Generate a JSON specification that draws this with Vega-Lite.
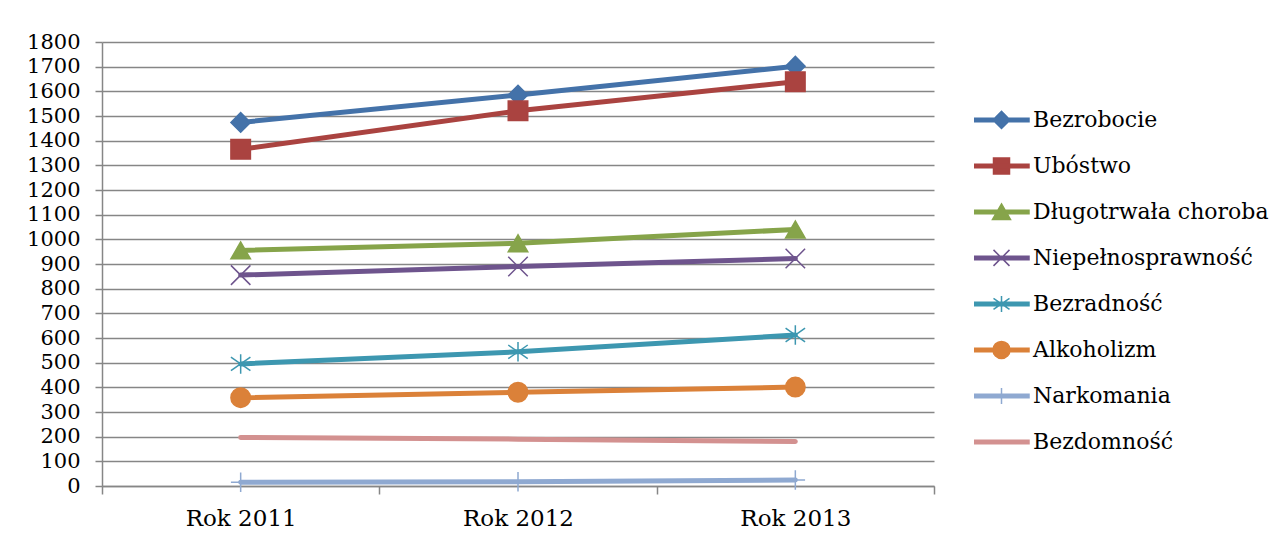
{
  "$schema": "https://vega.github.io/schema/vega-lite/v6.json",
  "width": 832,
  "height": 444,
  "autosize": {"type": "none"},
  "padding": {"left": 102, "top": 42, "right": 351, "bottom": 57},
  "background": "white",
  "config": {
    "font": "DejaVu Serif",
    "view": {"stroke": null},
    "axis": {
      "labelFont": "DejaVu Serif",
      "labelColor": "black",
      "domainColor": "#868686",
      "tickColor": "#868686",
      "gridColor": "#868686",
      "domainWidth": 1.5,
      "tickWidth": 1.5,
      "gridWidth": 1.5
    },
    "legend": {"labelFont": "DejaVu Serif", "labelColor": "black"}
  },
  "data": {
    "values": [
      {"series": "Bezrobocie", "year": "Rok 2011", "value": 1474},
      {"series": "Bezrobocie", "year": "Rok 2012", "value": 1585},
      {"series": "Bezrobocie", "year": "Rok 2013", "value": 1702},
      {"series": "Ubóstwo", "year": "Rok 2011", "value": 1365},
      {"series": "Ubóstwo", "year": "Rok 2012", "value": 1521},
      {"series": "Ubóstwo", "year": "Rok 2013", "value": 1639},
      {"series": "Długotrwała choroba", "year": "Rok 2011", "value": 955},
      {"series": "Długotrwała choroba", "year": "Rok 2012", "value": 984},
      {"series": "Długotrwała choroba", "year": "Rok 2013", "value": 1040},
      {"series": "Niepełnosprawność", "year": "Rok 2011", "value": 855},
      {"series": "Niepełnosprawność", "year": "Rok 2012", "value": 890},
      {"series": "Niepełnosprawność", "year": "Rok 2013", "value": 922},
      {"series": "Bezradność", "year": "Rok 2011", "value": 495},
      {"series": "Bezradność", "year": "Rok 2012", "value": 544},
      {"series": "Bezradność", "year": "Rok 2013", "value": 612},
      {"series": "Alkoholizm", "year": "Rok 2011", "value": 358},
      {"series": "Alkoholizm", "year": "Rok 2012", "value": 380},
      {"series": "Alkoholizm", "year": "Rok 2013", "value": 401},
      {"series": "Narkomania", "year": "Rok 2011", "value": 15},
      {"series": "Narkomania", "year": "Rok 2012", "value": 17},
      {"series": "Narkomania", "year": "Rok 2013", "value": 24},
      {"series": "Bezdomność", "year": "Rok 2011", "value": 197},
      {"series": "Bezdomność", "year": "Rok 2012", "value": 190},
      {"series": "Bezdomność", "year": "Rok 2013", "value": 180}
    ]
  },
  "encoding": {
    "x": {
      "field": "year",
      "type": "nominal",
      "sort": null,
      "scale": {"type": "band", "paddingInner": 0, "paddingOuter": 0},
      "axis": {
        "title": null,
        "labelAngle": 0,
        "labelFontSize": 23,
        "tickBand": "extent",
        "tickSize": 8,
        "labelPadding": 13,
        "grid": false
      }
    },
    "y": {
      "field": "value",
      "type": "quantitative",
      "scale": {"domain": [0, 1800], "nice": false, "zero": true},
      "axis": {
        "title": null,
        "values": [0, 100, 200, 300, 400, 500, 600, 700, 800, 900, 1000, 1100, 1200, 1300, 1400, 1500, 1600, 1700, 1800],
        "format": "d",
        "labelOverlap": false,
        "labelFontSize": 21,
        "tickSize": 7,
        "labelPadding": 15,
        "grid": true,
        "labelBaseline": "middle"
      }
    },
    "color": {
      "field": "series",
      "type": "nominal",
      "scale": {
        "domain": ["Bezrobocie", "Ubóstwo", "Długotrwała choroba", "Niepełnosprawność", "Bezradność", "Alkoholizm", "Narkomania", "Bezdomność"],
        "range": ["#4472A9", "#AA4340", "#86A44A", "#6E548D", "#3D97B0", "#DB8139", "#8FA9D1", "#D39190"]
      },
      "legend": null
    }
  },
  "layer": [
    {
      "mark": {"type": "line", "strokeWidth": 5, "strokeCap": "round"}
    },
    {
      "mark": {"type": "point", "filled": true, "opacity": 1, "size": 380, "strokeWidth": 1.5},
      "encoding": {
        "stroke": {
          "field": "series",
          "type": "nominal",
          "scale": {
            "domain": ["Bezrobocie", "Ubóstwo", "Długotrwała choroba", "Niepełnosprawność", "Bezradność", "Alkoholizm", "Narkomania", "Bezdomność"],
            "range": ["#4472A9", "#AA4340", "#86A44A", "#6E548D", "#3D97B0", "#DB8139", "#8FA9D1", "#D39190"]
          },
          "legend": null
        },
        "shape": {
          "field": "series",
          "type": "nominal",
          "scale": {
            "domain": ["Bezrobocie", "Ubóstwo", "Długotrwała choroba", "Niepełnosprawność", "Bezradność", "Alkoholizm", "Narkomania", "Bezdomność"],
            "range": ["diamond", "square", "triangle-up", "M-1,-1L1,1M-1,1L1,-1", "M0,-1L0,1M-1,-0.7L1,0.7M-1,0.7L1,-0.7", "circle", "M0,-1L0,1M-1,0L1,0", "M0,0Z"]
          },
          "legend": null
        }
      }
    },
    {
      "mark": {"type": "point", "filled": true, "opacity": 0, "size": 400, "strokeWidth": 1.5},
      "encoding": {
        "color": {
          "field": "series",
          "type": "nominal",
          "legend": {
            "title": null,
            "orient": "none",
            "legendX": 872,
            "legendY": 55,
            "padding": 0,
            "symbolSize": 400,
            "symbolOpacity": 1,
            "symbolStrokeWidth": 1.5,
            "symbolOffset": 16.5,
            "clipHeight": 45.8,
            "rowPadding": 0,
            "labelOffset": 20.5,
            "labelFontSize": 22,
            "labelLimit": 400
          }
        },
        "stroke": {
          "field": "series",
          "type": "nominal",
          "legend": {
            "title": null,
            "orient": "none",
            "legendX": 872,
            "legendY": 55,
            "padding": 0,
            "symbolSize": 400,
            "symbolOpacity": 1,
            "symbolStrokeWidth": 1.5,
            "symbolOffset": 16.5,
            "clipHeight": 45.8,
            "rowPadding": 0,
            "labelOffset": 20.5,
            "labelFontSize": 22,
            "labelLimit": 400
          }
        },
        "shape": {
          "field": "series",
          "type": "nominal",
          "scale": {
            "domain": ["Bezrobocie", "Ubóstwo", "Długotrwała choroba", "Niepełnosprawność", "Bezradność", "Alkoholizm", "Narkomania", "Bezdomność"],
            "range": [
              "M-2.75,-0.175H2.75V0.175H-2.75ZM0,-0.85L0.85,0L0,0.85L-0.85,0Z",
              "M-2.75,-0.175H2.75V0.175H-2.75ZM-0.8,-0.8H0.8V0.8H-0.8Z",
              "M-2.75,-0.175H2.75V0.175H-2.75ZM0,-0.8L0.9,0.75H-0.9Z",
              "M-2.75,-0.175H2.75V0.175H-2.75ZM-0.8,-0.8L0.8,0.8M-0.8,0.8L0.8,-0.8",
              "M-2.75,-0.175H2.75V0.175H-2.75ZM0,-0.8L0,0.8M-0.8,-0.55L0.8,0.55M-0.8,0.55L0.8,-0.55",
              "M-2.75,-0.175H2.75V0.175H-2.75ZM0.85,0A0.85,0.85,0,1,1,-0.85,0A0.85,0.85,0,1,1,0.85,0Z",
              "M-2.75,-0.175H2.75V0.175H-2.75ZM0,-0.8L0,0.8",
              "M-2.75,-0.175H2.75V0.175H-2.75Z"
            ]
          },
          "legend": {
            "title": null,
            "orient": "none",
            "legendX": 872,
            "legendY": 55,
            "padding": 0,
            "symbolSize": 400,
            "symbolOpacity": 1,
            "symbolStrokeWidth": 1.5,
            "symbolOffset": 16.5,
            "clipHeight": 45.8,
            "rowPadding": 0,
            "labelOffset": 20.5,
            "labelFontSize": 22,
            "labelLimit": 400
          }
        }
      }
    }
  ],
  "resolve": {
    "scale": {"shape": "independent"},
    "legend": {"shape": "independent", "color": "independent", "stroke": "independent"}
  }
}
